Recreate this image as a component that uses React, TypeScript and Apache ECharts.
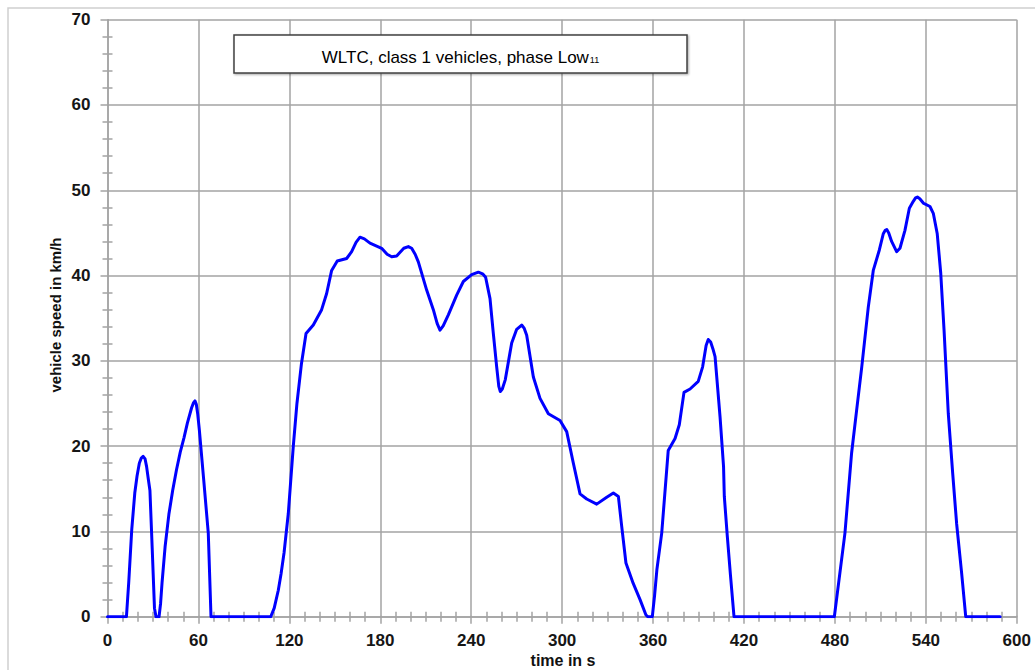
import React, { useEffect, useRef } from "react";
import * as echarts from "echarts";

// time in s
const times: number[] = [
  0, 11, 12.5, 14, 16, 18, 19.5, 21, 22.3, 23.5, 24.8, 25.8, 26.8, 28, 29.5, 31, 32, 34, 35, 36, 38, 40.5, 43, 45.5, 48, 50.5, 52.7, 55.5, 56.8, 57.7, 58.6, 59.5, 60.6, 63.5, 66.5, 68.3,
  106.5, 107.7, 110, 112.7, 114.5, 116.5, 119.3, 122.6, 125, 128, 131, 135.8, 141.3, 144.6, 147.9, 151.6, 157.8, 161.1, 164, 166.6, 169.5, 173.2, 180.9, 184.5, 187.5, 190.8,
  195.5, 198.5, 200.7, 203, 205.1, 210.6, 215, 217.5, 219.4, 221.5, 224.9, 230.4, 234.8, 240.3, 244.7, 247.5, 249.5, 252.4, 254.6, 256.8, 258.2, 259.2, 260.5, 262.5, 266.7, 270, 273.3,
  275, 276.6, 281, 285.4, 290.9, 298.6, 303, 307.4, 311.8, 316.2, 322.8, 329.4, 333.8, 337.1, 339.3, 342.1, 346.9, 351.4, 355.3, 356.5, 359.5, 361, 362.5, 365.7,
  370, 374.5, 377.3, 380.4, 384.4, 389.8, 392.7, 395, 396.4, 398, 399.5, 400.9, 404.2, 406.5, 407, 409, 411, 413.4,
  478.5, 479.6, 486.6, 491, 494.3, 497.7, 502, 505.3, 509.3, 511.9, 513.2, 514.2, 515.5, 517.4, 520.7, 522.9, 526.2, 529.1, 531.7, 533.2, 534.4, 536, 538.3, 542.7, 544.9, 547.5,
  549.8, 552, 554.8, 557.7, 560.3, 563.6, 566.3, 589,
];
// vehicle speed in km/h
const speeds: number[] = [
  0, 0, 0, 4, 10.2, 14.5, 16.5, 18, 18.6, 18.8, 18.5, 17.6, 16.3, 14.8, 8, 1, 0, 0, 1.5, 4, 8.2, 12, 14.8, 17.2, 19.3, 21, 22.7, 24.5, 25.1, 25.3, 24.9, 23.8, 21.9, 16, 9.8, 0,
  0, 0, 1, 3.1, 5, 7.5, 12.1, 20, 25, 29.7, 33.2, 34.2, 36, 37.9, 40.6, 41.7, 42, 42.8, 43.9, 44.5, 44.3, 43.8, 43.2, 42.5, 42.2, 42.3,
  43.2, 43.4, 43.2, 42.5, 41.6, 38.3, 36, 34.4, 33.6, 34.1, 35.4, 37.7, 39.3, 40.1, 40.4, 40.2, 39.8, 37.3, 33.2, 29.3, 27, 26.4, 26.7, 27.8, 32.1, 33.7, 34.2,
  33.8, 33, 28.1, 25.6, 23.8, 23, 21.7, 18, 14.4, 13.8, 13.2, 14, 14.5, 14.1, 10.6, 6.3, 3.9, 2, 0.2, 0, 0, 2.5, 5.5, 9.8,
  19.5, 20.9, 22.5, 26.3, 26.7, 27.6, 29.3, 31.8, 32.5, 32.2, 31.4, 30.5, 23.4, 17.6, 14.1, 9.4, 5, 0,
  0, 0, 9.8, 19.2, 24.2, 29.3, 36.3, 40.6, 43, 44.9, 45.3, 45.4, 45, 44, 42.8, 43.2, 45.3, 47.9, 48.7, 49.1, 49.2, 49, 48.5, 48.1, 47.3, 44.9,
  40.3, 33.6, 23.8, 16.8, 10.9, 5.1, 0, 0,
];
const xTicks = { min: 0, max: 600, interval: 60 };
const yTicks = { min: 0, max: 70, interval: 10 };
const titleMain = "WLTC, class 1 vehicles, phase Low";
const titleSub = "11";
const xName = "time in s";
const yName = "vehicle speed in km/h";

const FONT = "'Liberation Sans', Arial, sans-serif";
const GRID = "#a3a3a3";

export default function App() {
  const ref = useRef<HTMLDivElement>(null);
  useEffect(() => {
    if (!ref.current) return;
    const chart = echarts.init(ref.current, null, { renderer: "svg" });
    const data = times.map((t, i) => [t, speeds[i]]);
    const lineStyle = { color: GRID, width: 1.5 };
    const baseX = {
      type: "value" as const,
      gridIndex: 0,
      position: "bottom" as const,
      ...xTicks,
    };
    const baseY = {
      type: "value" as const,
      gridIndex: 0,
      position: "left" as const,
      ...yTicks,
    };
    chart.setOption({
      animation: false,
      backgroundColor: "#ffffff",
      grid: { left: 107.5, top: 19.7, right: 18.2, bottom: 53.3, containLabel: false },
      xAxis: [
        {
          ...baseX,
          axisLine: { show: true, lineStyle },
          axisTick: { show: true, length: 7, lineStyle },
          minorTick: { show: true, splitNumber: 6, length: 5, lineStyle },
          splitLine: { show: true, lineStyle },
          minorSplitLine: { show: false },
          axisLabel: { fontFamily: FONT, fontWeight: "bold", fontSize: 17, color: "#161616", margin: 15 },
        },
        {
          ...baseX,
          axisLine: { show: false },
          axisTick: { show: true, inside: true, length: 1, lineStyle },
          minorTick: { show: true, splitNumber: 6, length: 5, lineStyle },
          splitLine: { show: false },
          axisLabel: { show: false },
        },
      ],
      yAxis: [
        {
          ...baseY,
          axisLine: { show: true, lineStyle },
          axisTick: { show: true, length: 7, lineStyle },
          minorTick: { show: true, splitNumber: 5, length: 5, lineStyle },
          splitLine: { show: true, lineStyle },
          axisLabel: { fontFamily: FONT, fontWeight: "bold", fontSize: 17, color: "#161616", margin: 17 },
        },
        {
          ...baseY,
          axisLine: { show: false },
          axisTick: { show: true, inside: true, length: 1, lineStyle },
          minorTick: { show: true, splitNumber: 5, length: 5, lineStyle },
          splitLine: { show: false },
          axisLabel: { show: false },
        },
      ],
      series: [
        {
          type: "line",
          xAxisIndex: 0,
          yAxisIndex: 0,
          data,
          showSymbol: false,
          smooth: false,
          lineStyle: { color: "#0000ff", width: 3, join: "round", cap: "round" },
          z: 5,
        },
      ],
      graphic: [
        {
          type: "rect",
          shape: { x: 8, y: 8, width: 1040, height: 690 },
          style: { fill: "none", stroke: "#cfcfcf", lineWidth: 1.5 },
          silent: true,
          z: 0,
        },
        {
          type: "rect",
          shape: { x: 234, y: 35, width: 453, height: 38 },
          style: {
            fill: "#ffffff",
            stroke: "#404040",
            lineWidth: 1.5,
            shadowBlur: 2,
            shadowOffsetX: 1,
            shadowOffsetY: 1,
            shadowColor: "rgba(0,0,0,0.35)",
          },
          z: 10,
        },
        {
          type: "text",
          x: 460.5,
          y: 55,
          style: {
            text: `{a|${titleMain}}{b|${titleSub}}`,
            align: "center",
            verticalAlign: "middle",
            rich: {
              a: { fontFamily: FONT, fontSize: 17, color: "#111111", lineHeight: 22, verticalAlign: "bottom" },
              b: { fontFamily: FONT, fontSize: 9, color: "#111111", lineHeight: 9, verticalAlign: "bottom", padding: [0, 0, 2, 1] },
            },
          },
          z: 11,
        },
        {
          type: "text",
          x: 55,
          y: 315,
          rotation: Math.PI / 2,
          style: {
            text: yName,
            fontFamily: FONT,
            fontWeight: "bold",
            fontSize: 15,
            fill: "#111111",
            align: "center",
            verticalAlign: "middle",
          },
          z: 11,
        },
        {
          type: "text",
          x: 563,
          y: 660,
          style: {
            text: xName,
            fontFamily: FONT,
            fontWeight: "bold",
            fontSize: 16,
            fill: "#111111",
            align: "center",
            verticalAlign: "middle",
          },
          z: 11,
        },
      ],
    });
    return () => chart.dispose();
  }, []);
  return (
    <div
      ref={ref}
      style={{ position: "fixed", left: 0, top: 0, width: 1035, height: 670, background: "#fff" }}
    />
  );
}
